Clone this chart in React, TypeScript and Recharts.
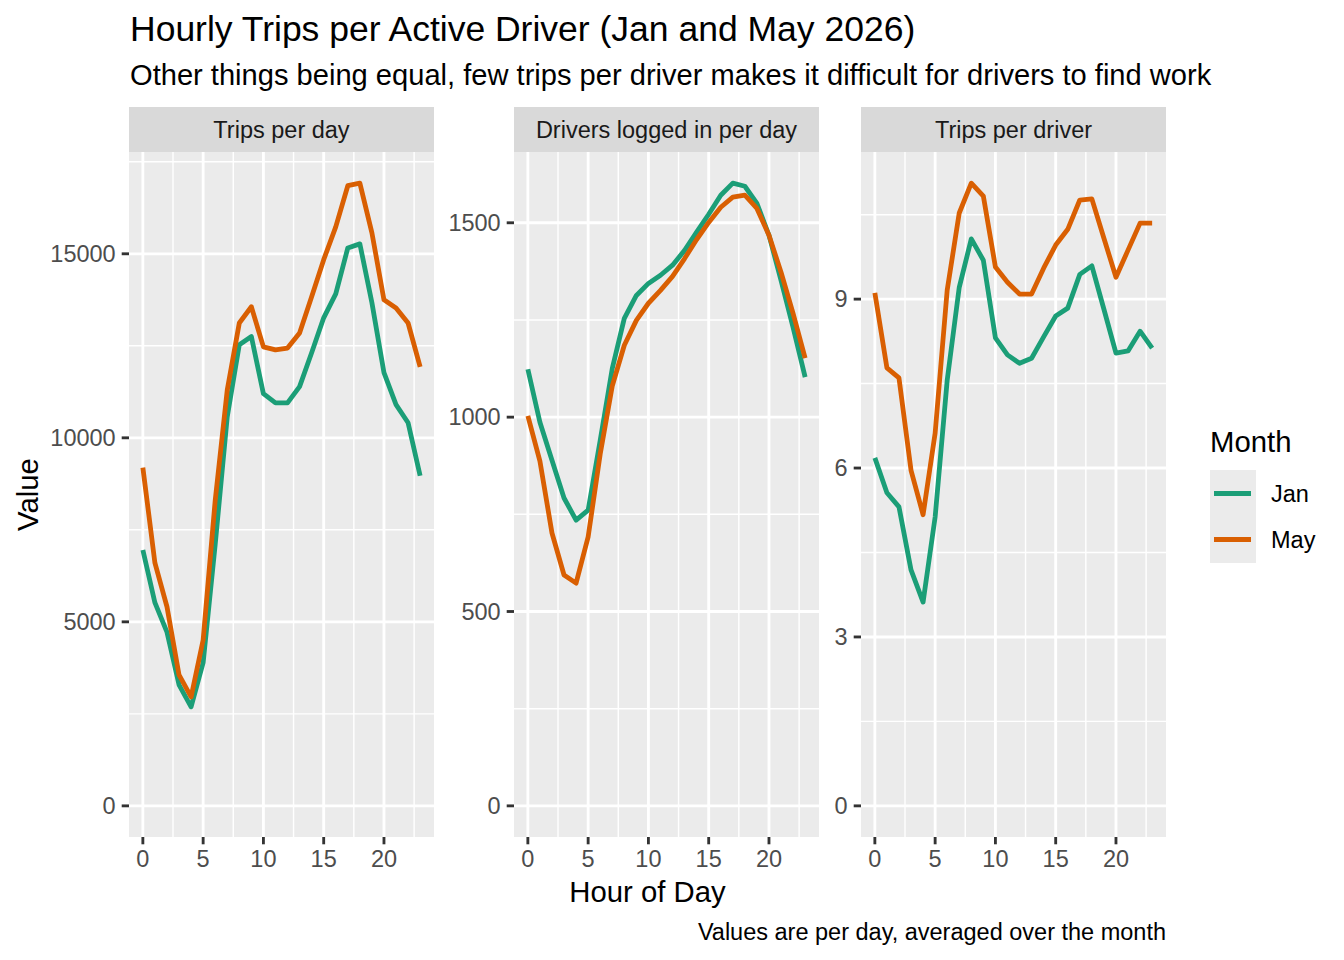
import { CartesianGrid, Line, LineChart, XAxis, YAxis } from "recharts";

// ggplot-ish look: 7x5in at 192dpi, base_size 11 → 8.8pt ticks ≈ 23.5px
const FONT = "'Liberation Sans', Arial, Helvetica, sans-serif";
const JAN = "#1B9E77";
const MAY = "#D95F02";
const PANEL_BG = "#EBEBEB";
const STRIP_BG = "#D9D9D9";

const hours = [0, 1, 2, 3, 4, 5, 6, 7, 8, 9, 10, 11, 12, 13, 14, 15, 16, 17, 18, 19, 20, 21, 22, 23];
const months = ["Jan", "May"];

const tripsJan = [6950, 5520, 4720, 3290, 2690, 3890, 7100, 10570, 12530, 12750, 11200, 10950, 10950, 11390, 12310, 13260, 13910, 15160, 15270, 13670, 11770, 10900, 10410, 8970];
const tripsMay = [9190, 6600, 5410, 3560, 2960, 4510, 8300, 11300, 13120, 13560, 12470, 12390, 12440, 12850, 13830, 14840, 15730, 16850, 16920, 15570, 13750, 13530, 13120, 11930];

const driversJan = [1123, 987, 889, 792, 735, 761, 940, 1125, 1254, 1313, 1344, 1365, 1391, 1429, 1476, 1522, 1571, 1602, 1594, 1550, 1468, 1352, 1231, 1103];
const driversMay = [1003, 887, 702, 594, 573, 692, 905, 1080, 1185, 1249, 1293, 1326, 1362, 1408, 1457, 1501, 1540, 1566, 1571, 1537, 1468, 1373, 1267, 1152];

const perDriverJan = [6.18, 5.56, 5.31, 4.19, 3.62, 5.13, 7.56, 9.21, 10.07, 9.69, 8.31, 8.01, 7.86, 7.95, 8.33, 8.7, 8.84, 9.44, 9.59, 8.82, 8.04, 8.08, 8.43, 8.13];
const perDriverMay = [9.11, 7.78, 7.6, 5.96, 5.17, 6.62, 9.16, 10.53, 11.06, 10.83, 9.57, 9.3, 9.09, 9.09, 9.55, 9.96, 10.24, 10.76, 10.78, 10.08, 9.39, 9.87, 10.35, 10.35];

const xTicks = [0, 5, 10, 15, 20];
const xMinor = [2.5, 7.5, 12.5, 17.5, 22.5];

const facets = [
  { title: "Trips per day", jan: tripsJan, may: tripsMay, ticks: [0, 5000, 10000, 15000], minor: [2500, 7500, 12500, 17500], left: 129, axisW: 80 },
  { title: "Drivers logged in per day", jan: driversJan, may: driversMay, ticks: [0, 500, 1000, 1500], minor: [250, 750, 1250], left: 514, axisW: 70 },
  { title: "Trips per driver", jan: perDriverJan, may: perDriverMay, ticks: [0, 3, 6, 9], minor: [1.5, 4.5, 7.5, 10.5], left: 861, axisW: 40 },
];

const PANEL_TOP = 152;
const PANEL_W = 305;
const PANEL_H = 685;
const X_AXIS_H = 60;

const tickStyle = { fill: "#4D4D4D", fontSize: 23.5, fontFamily: FONT };
const tickLine = { stroke: "#333333", strokeWidth: 2.85 };

function Facet({ facet }: { facet: (typeof facets)[number] }) {
  const rows = hours.map((h, i) => ({ hour: h, Jan: facet.jan[i], May: facet.may[i] }));
  const hi = Math.max(...facet.jan, ...facet.may);
  const pad = hi * 0.05;
  return (
    <div style={{ position: "absolute", left: facet.left - facet.axisW, top: PANEL_TOP }}>
      <LineChart
        width={facet.axisW + PANEL_W}
        height={PANEL_H + X_AXIS_H}
        data={rows}
        margin={{ top: 0, right: 0, bottom: 0, left: 0 }}
      >
        <CartesianGrid
          fill={PANEL_BG}
          fillOpacity={1}
          stroke="#FFFFFF"
          strokeWidth={1.42}
          horizontalValues={facet.minor}
          verticalValues={xMinor}
        />
        <CartesianGrid
          stroke="#FFFFFF"
          strokeWidth={2.85}
          horizontalValues={facet.ticks}
          verticalValues={xTicks}
        />
        <XAxis
          dataKey="hour"
          type="number"
          domain={[-1.15, 24.15]}
          ticks={xTicks}
          allowDataOverflow
          height={X_AXIS_H}
          axisLine={false}
          tickLine={tickLine}
          tickSize={7.3}
          tickMargin={6}
          tick={tickStyle}
          interval={0}
        />
        <YAxis
          type="number"
          domain={[-pad, hi + pad]}
          ticks={facet.ticks}
          allowDataOverflow
          width={facet.axisW}
          axisLine={false}
          tickLine={tickLine}
          tickSize={7.3}
          tickMargin={6}
          tick={tickStyle}
          interval={0}
        />
        <Line dataKey="Jan" type="linear" stroke={JAN} strokeWidth={4.8} dot={false} strokeLinejoin="round" isAnimationActive={false} />
        <Line dataKey="May" type="linear" stroke={MAY} strokeWidth={4.8} dot={false} strokeLinejoin="round" isAnimationActive={false} />
      </LineChart>
    </div>
  );
}

export default function App() {
  return (
    <div style={{ position: "absolute", left: 0, top: 0, width: 1344, height: 960, background: "#FFFFFF", fontFamily: FONT }}>
      <svg width={1344} height={960} style={{ position: "absolute", left: 0, top: 0 }} fontFamily={FONT}>
        <text x={130} y={41} fontSize={35.5} fill="#000">Hourly Trips per Active Driver (Jan and May 2026)</text>
        <text x={130} y={85} fontSize={29.1} fill="#000">Other things being equal, few trips per driver makes it difficult for drivers to find work</text>
        {facets.map((f) => (
          <g key={f.title}>
            <rect x={f.left} y={107} width={PANEL_W} height={45} fill={STRIP_BG} />
            <text x={f.left + PANEL_W / 2} y={138} fontSize={23.5} fill="#1A1A1A" textAnchor="middle">{f.title}</text>
          </g>
        ))}
        <text transform="translate(38 494.5) rotate(-90)" fontSize={29.3} fill="#000" textAnchor="middle">Value</text>
        <text x={647.5} y={902} fontSize={29.3} fill="#000" textAnchor="middle">Hour of Day</text>
        <text x={1166} y={940} fontSize={23.5} fill="#000" textAnchor="end">Values are per day, averaged over the month</text>
        {/* legend */}
        <text x={1210} y={452} fontSize={29.3} fill="#000">Month</text>
        <rect x={1210} y={470} width={46} height={93} fill={PANEL_BG} />
        {months.map((m, i) => (
          <g key={m}>
            <line x1={1214} x2={1251} y1={493.5 + i * 46} y2={493.5 + i * 46} stroke={i === 0 ? JAN : MAY} strokeWidth={4.8} />
            <text x={1271} y={502 + i * 46} fontSize={23.5} fill="#000">{m}</text>
          </g>
        ))}
      </svg>
      {facets.map((f) => (
        <Facet key={f.title} facet={f} />
      ))}
    </div>
  );
}
